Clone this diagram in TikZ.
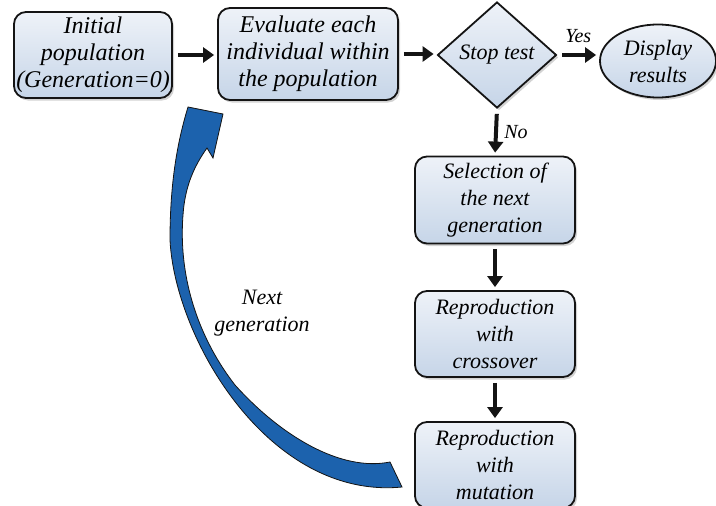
\documentclass[tikz,border=0pt]{standalone}
\usepackage{fontspec}
\setmainfont{Liberation Serif}
\newfontfamily\timesfam{Liberation Serif}
\usetikzlibrary{arrows.meta,shapes.geometric,shadows}
\definecolor{boxTop}{HTML}{EEF2F8}
\definecolor{boxBottom}{HTML}{C6D5E8}
\definecolor{loopBlue}{HTML}{1C62AD}
\definecolor{edgeDark}{HTML}{141414}
\newcommand{\boxfont}{\timesfam\fontsize{24}{27}\selectfont\itshape}
\newcommand{\colfont}{\timesfam\fontsize{22}{27}\selectfont\itshape}
\newcommand{\tagfont}{\timesfam\fontsize{20}{24}\selectfont\itshape}

\begin{document}
\begin{tikzpicture}[x=1pt,y=-1pt,
  box/.style={draw=edgeDark,line width=1.8pt,rounded corners=12pt,top color=boxTop,bottom color=boxBottom,
    align=center,font=\colfont,inner sep=0pt,minimum width=160pt,minimum height=86pt,
    drop shadow={shadow xshift=2pt,shadow yshift=-2.5pt,opacity=0.35}},
  testbox/.style={box,diamond,rounded corners=0pt,minimum width=119pt,minimum height=106pt},
  resultbox/.style={box,ellipse,rounded corners=0pt,minimum width=116pt,minimum height=73pt},
  flow/.style={draw=edgeDark,line width=4pt,-{Triangle[length=11pt,width=15pt]},shorten <=5pt,shorten >=3pt},
  lbl/.style={font=\colfont,align=center},
  tag/.style={font=\tagfont}]
\useasboundingbox (0,0) rectangle (716,506);
% boxes
\node[box,font=\boxfont,minimum width=158pt] (init) at (93,55) {Initial\\population\\(Generation=0)};
\node[box,font=\boxfont,minimum width=180pt,minimum height=92pt] (eval) at (308,54) {Evaluate each\\individual within\\the population};
\node[testbox] (stop) at (497,55) {Stop test};
\node[resultbox] (disp) at (658,61) {Display\\results};
\node[box,minimum height=87pt] (sel) at (495,200) {Selection of\\the next\\generation};
\node[box] (cross) at (495,334) {Reproduction\\with\\crossover};
\node[box] (mut) at (495,465) {Reproduction\\with\\mutation};
% arrows
\draw[flow] (init.east) -- (eval.west |- init.east);
\draw[flow] (eval.east) -- (stop.west |- eval.east);
\draw[flow] (stop.east) -- (disp.west |- stop.east) node[tag,midway,above=7pt] {Yes};
\draw[flow] (stop.south) -- (sel.north) node[tag,midway,right=3pt] {No};
\draw[flow] (sel) -- (cross);
\draw[flow] (cross) -- (mut);
% loop back
\filldraw[fill=loopBlue,draw=edgeDark,line width=0.8pt]
  (390,462) .. controls (340,472) and (280,435) .. (235,385)
  .. controls (200,340) and (178,280) .. (183,215)
  .. controls (185,185) and (195,165) .. (207,148)
  -- (213,158) -- (223,114) -- (188,107)
  .. controls (178,140) and (170,180) .. (170,240)
  .. controls (175,340) and (270,500) .. (402,487) -- cycle;
\node[lbl] (next) at (262,313) {Next\\generation};
\end{tikzpicture}
\end{document}
